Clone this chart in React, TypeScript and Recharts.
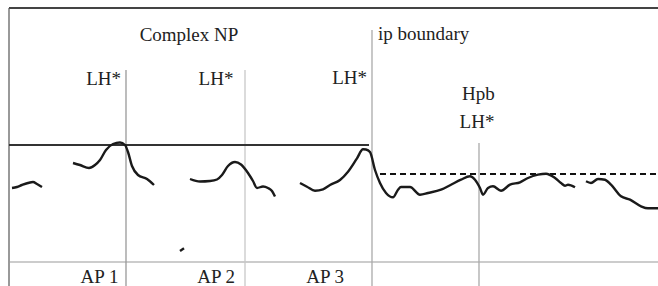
import { ComposedChart, Line, XAxis, YAxis, ReferenceLine, ReferenceDot } from 'recharts';

// pitch track: time in ms, f0 in Hz
const seg1T = [60, 85, 110, 140, 165, 185, 210];
const seg1Hz = [148, 149, 151, 153, 154, 152, 149];

const seg2T = [365, 400, 445, 475, 500, 530, 565, 600, 625, 640, 660, 690, 735, 770];
const seg2Hz = [173, 171, 168, 171, 176, 186, 192, 193.5, 191, 184, 170, 161, 157, 151];

const seg3T = [950, 1000, 1050, 1085, 1110, 1140, 1175, 1205, 1240, 1265, 1285, 1315, 1340, 1360, 1375];
const seg3Hz = [157, 154.5, 155, 156.5, 161, 170, 174, 171.5, 163, 155, 148, 149.5, 148, 145, 139.5];

const blipT = [900, 920];
const blipHz = [85, 87.7];

const seg4T = [
  1500, 1535, 1575, 1615, 1650, 1700, 1740, 1785, 1815, 1830, 1850, 1875, 1900, 1930, 1965, 1990, 2005, 2050, 2100, 2140,
  2205, 2255, 2305, 2350, 2375, 2400, 2415, 2440, 2465, 2505, 2550, 2600, 2640, 2690, 2730, 2775, 2805, 2825, 2840, 2875,
];
const seg4Hz = [
  153, 149.3, 145.3, 146.7, 151, 156, 164.3, 177.7, 186.7, 186.5, 184, 166, 153, 143, 138.7, 146.3, 149, 149, 141.3, 143,
  146.3, 151.3, 156.3, 159.7, 156.3, 148, 141.3, 148, 149.7, 145.3, 151.3, 153.7, 158, 161.3, 162.3, 158, 153, 150.3, 151.3, 148.7,
];

const seg5T = [2930, 2955, 2990, 3025, 3055, 3105, 3150, 3205, 3240, 3290];
const seg5Hz = [154.7, 153, 157, 156.3, 151.3, 139.7, 136.3, 129.7, 127.7, 127.7];

// reference levels
const topLineHz = 191; // complex NP high plateau
const dashLineHz = 162; // post-boundary level

// boundaries (ms) and the top of each marker line
const boundaryT = [630, 1225, 1860, 2395];
const boundaryTopHz = [266, 266, 306, 193];
const boundaryColors = ['#999', '#c8c8c8', '#aaa', '#aaa'];

const labelText = ['Complex NP', 'ip boundary', 'LH*', 'LH*', 'LH*', 'Hpb', 'LH*', 'AP 1', 'AP 2', 'AP 3'];
const labelT = [945, 1890, 605, 1167, 1835, 2392, 2385, 592, 1175, 1720];
const labelHz = [295, 296, 251, 251, 252, 236, 208, 53, 53, 53];
const labelAnchor = ['middle', 'start', 'end', 'end', 'end', 'middle', 'middle', 'end', 'end', 'end'];

const T_MAX = 3290;
const HZ_MIN = 50;
const HZ_MAX = 336;
const FRAME_T = 45;
const FRAME_TOP = 328;
const FRAME_BOTTOM = 74;

const zip = (t: number[], hz: number[]) => t.map((v, i) => ({ t: v, hz: hz[i] }));

const segments = [
  zip(seg1T, seg1Hz),
  zip(seg2T, seg2Hz),
  zip(seg3T, seg3Hz),
  zip(blipT, blipHz),
  zip(seg4T, seg4Hz),
  zip(seg5T, seg5Hz),
];

const FONT = "'Liberation Serif', 'DejaVu Serif', serif";

export default function App() {
  return (
    <div style={{ position: 'absolute', left: 0, top: 0, background: '#fff' }}>
      <ComposedChart width={658} height={286} margin={{ top: 0, right: 0, bottom: 0, left: 0 }}>
        <XAxis type="number" dataKey="t" domain={[0, T_MAX]} hide allowDataOverflow />
        <YAxis type="number" dataKey="hz" domain={[HZ_MIN, HZ_MAX]} hide allowDataOverflow />

        {/* frame */}
        <ReferenceLine segment={[{ x: FRAME_T, y: FRAME_TOP }, { x: T_MAX, y: FRAME_TOP }]} stroke="#444" strokeWidth={2} />
        <ReferenceLine segment={[{ x: FRAME_T, y: FRAME_TOP }, { x: FRAME_T, y: HZ_MIN }]} stroke="#555" strokeWidth={1.2} />
        <ReferenceLine segment={[{ x: FRAME_T, y: FRAME_BOTTOM }, { x: T_MAX, y: FRAME_BOTTOM }]} stroke="#999" strokeWidth={1} />

        {boundaryT.map((t, i) => (
          <ReferenceLine
            key={'b' + i}
            segment={[{ x: t, y: boundaryTopHz[i] }, { x: t, y: HZ_MIN }]}
            stroke={boundaryColors[i]}
            strokeWidth={1.3}
          />
        ))}

        <ReferenceLine segment={[{ x: FRAME_T, y: topLineHz }, { x: 1845, y: topLineHz }]} stroke="#333" strokeWidth={2} />
        <ReferenceLine
          segment={[{ x: 1900, y: dashLineHz }, { x: T_MAX, y: dashLineHz }]}
          stroke="#111"
          strokeWidth={2}
          strokeDasharray="6 4"
        />

        {segments.map((d, i) => (
          <Line
            key={'s' + i}
            data={d}
            dataKey="hz"
            type="monotone"
            stroke="#1a1a1a"
            strokeWidth={2.4}
            dot={false}
            activeDot={false}
            isAnimationActive={false}
          />
        ))}

        {labelText.map((s, i) => (
          <ReferenceDot
            key={'l' + i}
            x={labelT[i]}
            y={labelHz[i]}
            r={0}
            shape={(p: any) => (
              <text
                x={p.cx}
                y={p.cy}
                textAnchor={labelAnchor[i] as any}
                fontFamily={FONT}
                fontSize={19}
                fill="#222"
              >
                {s}
              </text>
            )}
          />
        ))}
      </ComposedChart>
    </div>
  );
}
